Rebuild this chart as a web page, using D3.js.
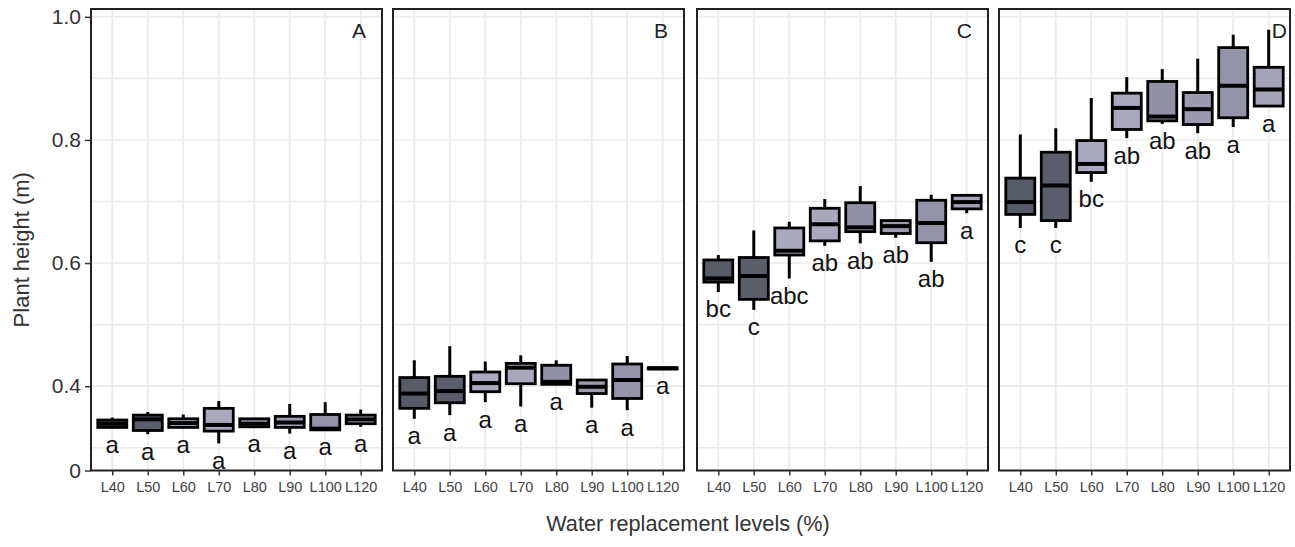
<!DOCTYPE html>
<html>
<head>
<meta charset="utf-8">
<script src="https://cdn.jsdelivr.net/npm/d3@7"></script>
<style>
  html, body { margin: 0; padding: 0; background: #fff; }
  svg { display: block; font-family: "Liberation Sans", Arial, sans-serif; }
</style>
</head>
<body>
<svg id="chart" width="1295" height="547"></svg>
<script>
// Treatment levels on the x axis
const categories = ["L40", "L50", "L60", "L70", "L80", "L90", "L100", "L120"];
const panelNames = ["A", "B", "C", "D"];

// Box summaries per treatment: [lower whisker, Q1, median, Q3, upper whisker] (m)
const heightA = [
  [0.333, 0.333, 0.339, 0.345, 0.349],
  [0.322, 0.328, 0.346, 0.353, 0.358],
  [0.333, 0.333, 0.340, 0.347, 0.354],
  [0.307, 0.327, 0.337, 0.364, 0.376],
  [0.334, 0.334, 0.339, 0.347, 0.347],
  [0.323, 0.333, 0.341, 0.351, 0.371],
  [0.329, 0.329, 0.331, 0.354, 0.374],
  [0.334, 0.339, 0.346, 0.353, 0.362]
];
const heightB = [
  [0.347, 0.364, 0.388, 0.414, 0.442],
  [0.353, 0.373, 0.392, 0.416, 0.465],
  [0.374, 0.391, 0.405, 0.423, 0.440],
  [0.367, 0.404, 0.430, 0.437, 0.450],
  [0.403, 0.403, 0.407, 0.434, 0.442],
  [0.365, 0.388, 0.399, 0.410, 0.411],
  [0.361, 0.380, 0.410, 0.436, 0.449],
  [0.428, 0.428, 0.429, 0.430, 0.430]
];
const heightC = [
  [0.553, 0.569, 0.575, 0.605, 0.613],
  [0.524, 0.541, 0.579, 0.609, 0.653],
  [0.575, 0.613, 0.620, 0.657, 0.667],
  [0.628, 0.636, 0.663, 0.689, 0.704],
  [0.632, 0.651, 0.658, 0.698, 0.725],
  [0.641, 0.648, 0.660, 0.669, 0.670],
  [0.602, 0.633, 0.665, 0.702, 0.711],
  [0.681, 0.688, 0.699, 0.710, 0.712]
];
const heightD = [
  [0.657, 0.679, 0.699, 0.738, 0.809],
  [0.657, 0.669, 0.726, 0.780, 0.819],
  [0.732, 0.747, 0.761, 0.799, 0.868],
  [0.803, 0.817, 0.852, 0.876, 0.902],
  [0.826, 0.831, 0.838, 0.895, 0.915],
  [0.811, 0.825, 0.850, 0.877, 0.932],
  [0.821, 0.836, 0.888, 0.950, 0.971],
  [0.855, 0.855, 0.882, 0.918, 0.979]
];

// Mean-separation letters
const lettersA = ["a", "a", "a", "a", "a", "a", "a", "a"];
const lettersB = ["a", "a", "a", "a", "a", "a", "a", "a"];
const lettersC = ["bc", "c", "abc", "ab", "ab", "ab", "ab", "a"];
const lettersD = ["c", "c", "bc", "ab", "ab", "ab", "a", "a"];

// Y axis: the lowest tick marks the axis break and is labelled "0"
const yTickValues = [0.263, 0.4, 0.6, 0.8, 1.0];
const yTickLabels = ["0", "0.4", "0.6", "0.8", "1.0"];
const yGridValues = [0.3, 0.4, 0.5, 0.6, 0.7, 0.8, 0.9, 1.0];

// Fill for each treatment box
const boxFills = ["#575b67", "#5a5e6a", "#a9aabe", "#a8a9bd", "#9091a5", "#9a9baf", "#9394a8", "#a3a4b8"];

const panels = [
  { name: panelNames[0], stats: heightA, letters: lettersA },
  { name: panelNames[1], stats: heightB, letters: lettersB },
  { name: panelNames[2], stats: heightC, letters: lettersC },
  { name: panelNames[3], stats: heightD, letters: lettersD }
];

const svg = d3.select("#chart");
const plotTop = 9, plotBottom = 470.5, panelW = 291;
const panelLeft = [91, 393, 697, 999];
const nameInset = [16, 16, 16, 3];
const boxW = 29;

const y = d3.scaleLinear().domain([0.263, 1.0127]).range([plotBottom, plotTop]);

panels.forEach((p, pi) => {
  const left = panelLeft[pi];
  const x = d3.scalePoint().domain(categories).range([left, left + panelW]).padding(0.6);
  const g = svg.append("g");

  // background + grid
  g.append("rect").attr("x", left).attr("y", plotTop).attr("width", panelW).attr("height", plotBottom - plotTop)
    .attr("fill", "#ffffff");
  g.selectAll("line.hgrid").data(yGridValues).join("line").attr("class", "hgrid")
    .attr("x1", left).attr("x2", left + panelW)
    .attr("y1", d => y(d)).attr("y2", d => y(d))
    .attr("stroke", "#ebebeb").attr("stroke-width", 1.6);
  g.selectAll("line.vgrid").data(categories).join("line").attr("class", "vgrid")
    .attr("x1", d => x(d)).attr("x2", d => x(d))
    .attr("y1", plotTop).attr("y2", plotBottom)
    .attr("stroke", "#ebebeb").attr("stroke-width", 1.8);

  // boxes
  const items = p.stats.map((s, i) => ({ cat: categories[i], s, fill: boxFills[i], letter: p.letters[i] }));
  const bx = g.selectAll("g.box").data(items).join("g").attr("class", "box");
  bx.append("line")
    .attr("x1", d => x(d.cat)).attr("x2", d => x(d.cat))
    .attr("y1", d => y(d.s[4])).attr("y2", d => y(d.s[0]))
    .attr("stroke", "#000").attr("stroke-width", 3);
  bx.append("rect")
    .attr("x", d => x(d.cat) - boxW / 2).attr("width", boxW)
    .attr("y", d => y(d.s[3])).attr("height", d => Math.max(0.5, y(d.s[1]) - y(d.s[3])))
    .attr("fill", d => d.fill).attr("stroke", "#000").attr("stroke-width", 2.8);
  bx.append("line")
    .attr("x1", d => x(d.cat) - boxW / 2).attr("x2", d => x(d.cat) + boxW / 2)
    .attr("y1", d => y(d.s[2])).attr("y2", d => y(d.s[2]))
    .attr("stroke", "#000").attr("stroke-width", 4);
  bx.append("text")
    .attr("x", d => x(d.cat)).attr("y", d => y(d.s[0]) + 17)
    .attr("text-anchor", "middle").attr("dominant-baseline", "central")
    .attr("font-size", 24).attr("fill", "#111")
    .text(d => d.letter);

  // frame
  g.append("rect").attr("x", left).attr("y", plotTop).attr("width", panelW).attr("height", plotBottom - plotTop)
    .attr("fill", "none").attr("stroke", "#222").attr("stroke-width", 2);

  // panel tag
  g.append("text").attr("x", left + panelW - nameInset[pi]).attr("y", plotTop + 29)
    .attr("text-anchor", "end").attr("font-size", 21).attr("fill", "#222").text(p.name);

  // x axis
  const xa = g.append("g").attr("transform", `translate(0,${plotBottom})`)
    .call(d3.axisBottom(x).tickSize(5).tickPadding(6));
  xa.select(".domain").remove();
  xa.selectAll(".tick line").attr("stroke", "#333").attr("stroke-width", 1.5);
  xa.selectAll(".tick text").attr("font-size", 14.5).attr("fill", "#444")
    .attr("font-family", "Liberation Sans, Arial, sans-serif");

  if (pi === 0) {
    const ya = g.append("g").attr("transform", `translate(${left},0)`)
      .call(d3.axisLeft(y).tickValues(yTickValues).tickFormat((d, i) => yTickLabels[i]).tickSize(6).tickPadding(4));
    ya.select(".domain").remove();
    ya.selectAll(".tick line").attr("stroke", "#333").attr("stroke-width", 1.5);
    ya.selectAll(".tick text").attr("font-size", 21).attr("fill", "#333")
      .attr("font-family", "Liberation Sans, Arial, sans-serif");
  }
});

// axis titles
svg.append("text").attr("transform", `translate(21,${(plotTop + plotBottom) / 2 + 10}) rotate(-90)`)
  .attr("text-anchor", "middle").attr("dominant-baseline", "central")
  .attr("font-size", 22).attr("fill", "#333").text("Plant height (m)");
svg.append("text").attr("x", 688).attr("y", 523)
  .attr("text-anchor", "middle").attr("dominant-baseline", "central")
  .attr("font-size", 21.7).attr("fill", "#333").text("Water replacement levels (%)");
</script>
</body>
</html>
